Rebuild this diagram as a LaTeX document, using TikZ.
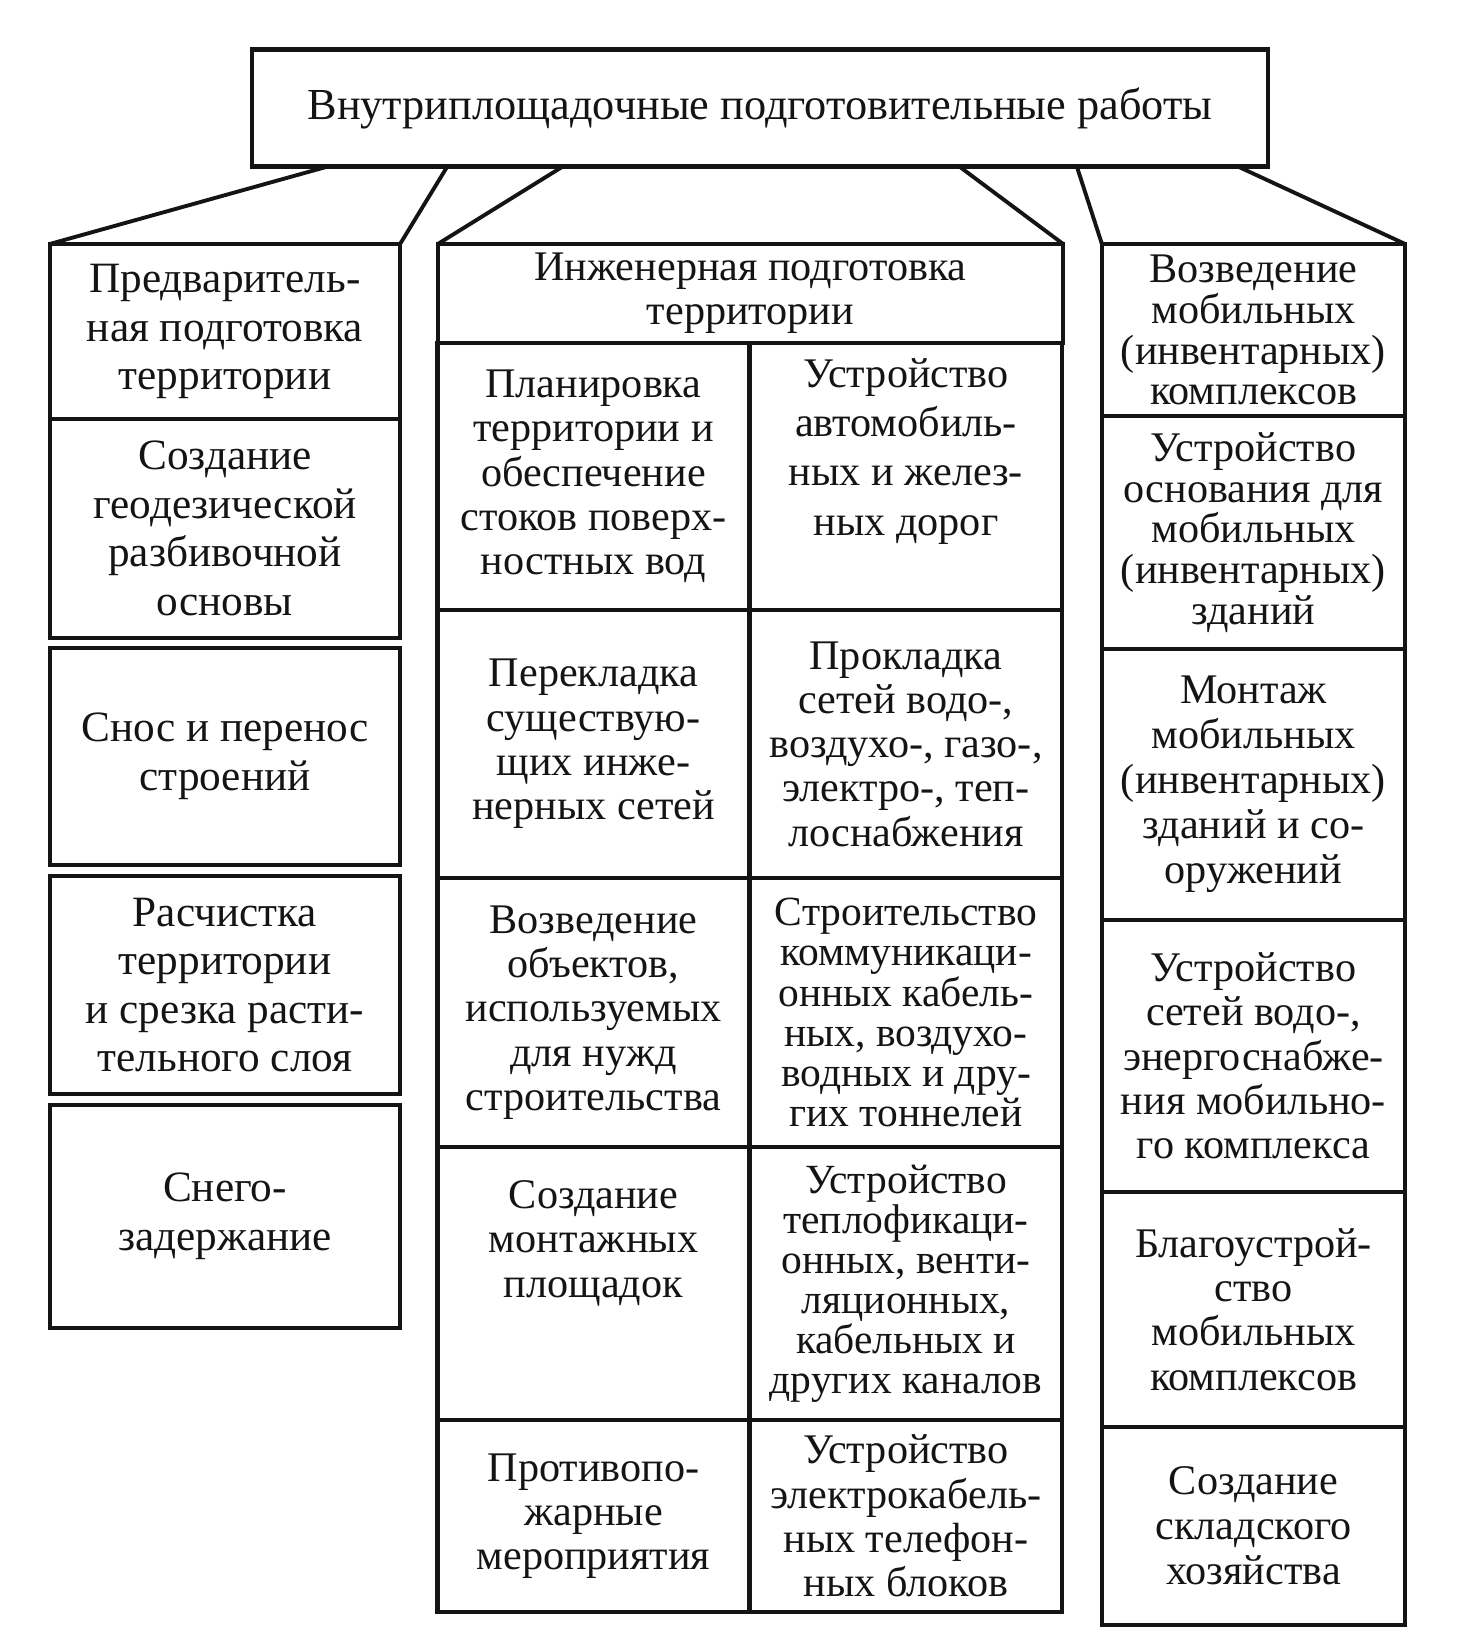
\documentclass[tikz,border=0pt]{standalone}
\usepackage{fontspec}
\setmainfont{Liberation Serif}
\usepackage{tikz}
\usetikzlibrary{positioning}
\definecolor{ink}{HTML}{141414}

\tikzset{
  box/.style={draw=ink, line width=1.3pt, inner sep=0pt, outer sep=0pt,
    align=center, text=ink, font=\fontsize{12}{12.6}\selectfont},
  lbox/.style={box, minimum width=3.5cm, font=\fontsize{12.3}{13.8}\selectfont},
  mbox/.style={box, minimum width=3.12cm},
  rbox/.style={box, minimum width=3.03cm, font=\fontsize{12}{11.6}\selectfont},
  link/.style={draw=ink, line width=1.1pt}
}

\begin{document}
\begin{tikzpicture}[x=0.01cm, y=-0.01cm]
  \useasboundingbox (0,0) rectangle (1473,1650);

  % top
  \node[box, minimum width=10.15cm, minimum height=1.17cm,
        font=\fontsize{12.6}{14}\selectfont] (works) at (760,108)
        {Внутриплощадочные подготовительные работы};

  % left column
  \node[lbox, minimum height=1.75cm] (prep)  at (225,331.5) {Предваритель-\\ная подготовка\\территории};
  \node[lbox, minimum height=2.19cm] (geo)   at (225,528.5) {Создание\\геодезической\\разбивочной\\основы};
  \node[lbox, minimum height=2.17cm] (demol) at (225,756.5) {Снос и перенос\\строений};
  \node[lbox, minimum height=2.18cm] (clear) at (225,985)   {Расчистка\\территории\\и срезка расти-\\тельного слоя};
  \node[lbox, minimum height=2.23cm] (snow)  at (225,1216.5) {Снего-\\задержание};

  % middle column
  \node[box, minimum width=6.25cm, minimum height=0.99cm] (eng) at (750.5,293.5)
        {Инженерная подготовка\\территории};
  \node[mbox, minimum height=2.67cm] (plan)     at (593.5,476.5) {Планировка\\территории и\\обеспечение\\стоков поверх-\\ностных вод};
  \node[mbox, minimum height=2.67cm, font=\fontsize{12}{14}\selectfont] (roads) at (906,476.5)
        {Устройство\\автомобиль-\\ных и желез-\\ных дорог\\[0.1cm]~};
  \node[mbox, minimum height=2.68cm] (relay)    at (593.5,744)   {Перекладка\\существую-\\щих инже-\\нерных сетей};
  \node[mbox, minimum height=2.68cm] (nets)     at (906,744)     {Прокладка\\сетей водо-,\\воздухо-, газо-,\\электро-, теп-\\лоснабжения};
  \node[mbox, minimum height=2.69cm] (objs)     at (593.5,1012.5) {Возведение\\объектов,\\используемых\\для нужд\\строительства};
  \node[mbox, minimum height=2.69cm, font=\fontsize{11.8}{11.4}\selectfont] (tunnels) at (906,1012.5)
        {Строительство\\коммуникаци-\\онных кабель-\\ных, воздухо-\\водных и дру-\\гих тоннелей};
  \node[mbox, minimum height=2.73cm] (mount)    at (593.5,1283.5) {Создание\\монтажных\\площадок\\[0.45cm]~};
  \node[mbox, minimum height=2.73cm, font=\fontsize{11.8}{11.4}\selectfont] (channels) at (906,1283.5)
        {Устройство\\теплофикаци-\\онных, венти-\\ляционных,\\кабельных и\\других каналов};
  \node[mbox, minimum height=1.92cm] (fire)     at (593.5,1516)  {Противопо-\\жарные\\мероприятия};
  \node[mbox, minimum height=1.92cm] (phone)    at (906,1516)    {Устройство\\электрокабель-\\ных телефон-\\ных блоков};

  % right column
  \node[rbox, minimum height=1.72cm] (mobile)  at (1253.5,330)    {Возведение\\мобильных\\(инвентарных)\\комплексов};
  \node[rbox, minimum height=2.33cm] (base)    at (1253.5,532.5)  {Устройство\\основания для\\мобильных\\(инвентарных)\\зданий};
  \node[rbox, minimum height=2.71cm, font=\fontsize{12}{12.8}\selectfont] (assemb) at (1253.5,784.5)
        {Монтаж\\мобильных\\(инвентарных)\\зданий и со-\\оружений};
  \node[rbox, minimum height=2.72cm, font=\fontsize{12}{12.6}\selectfont] (supply) at (1253.5,1056)
        {Устройство\\сетей водо-,\\энергоснабже-\\ния мобильно-\\го комплекса};
  \node[rbox, minimum height=2.35cm, font=\fontsize{12}{12.6}\selectfont] (improve) at (1253.5,1309.5)
        {Благоустрой-\\ство\\мобильных\\комплексов};
  \node[rbox, minimum height=1.98cm, font=\fontsize{12}{12.8}\selectfont] (store) at (1253.5,1526)
        {Создание\\складского\\хозяйства};

  % links from the top box
  \coordinate (l1) at (326,167);
  \coordinate (l2) at (447,167);
  \coordinate (l3) at (562,167);
  \coordinate (l4) at (960,167);
  \coordinate (l5) at (1077,167);
  \coordinate (l6) at (1239,167);
  \draw[link] (l1) -- (prep.north west);
  \draw[link] (l2) -- (prep.north east);
  \draw[link] (l3) -- (eng.north west);
  \draw[link] (l4) -- (eng.north east);
  \draw[link] (l5) -- (mobile.north west);
  \draw[link] (l6) -- (mobile.north east);
\end{tikzpicture}
\end{document}
